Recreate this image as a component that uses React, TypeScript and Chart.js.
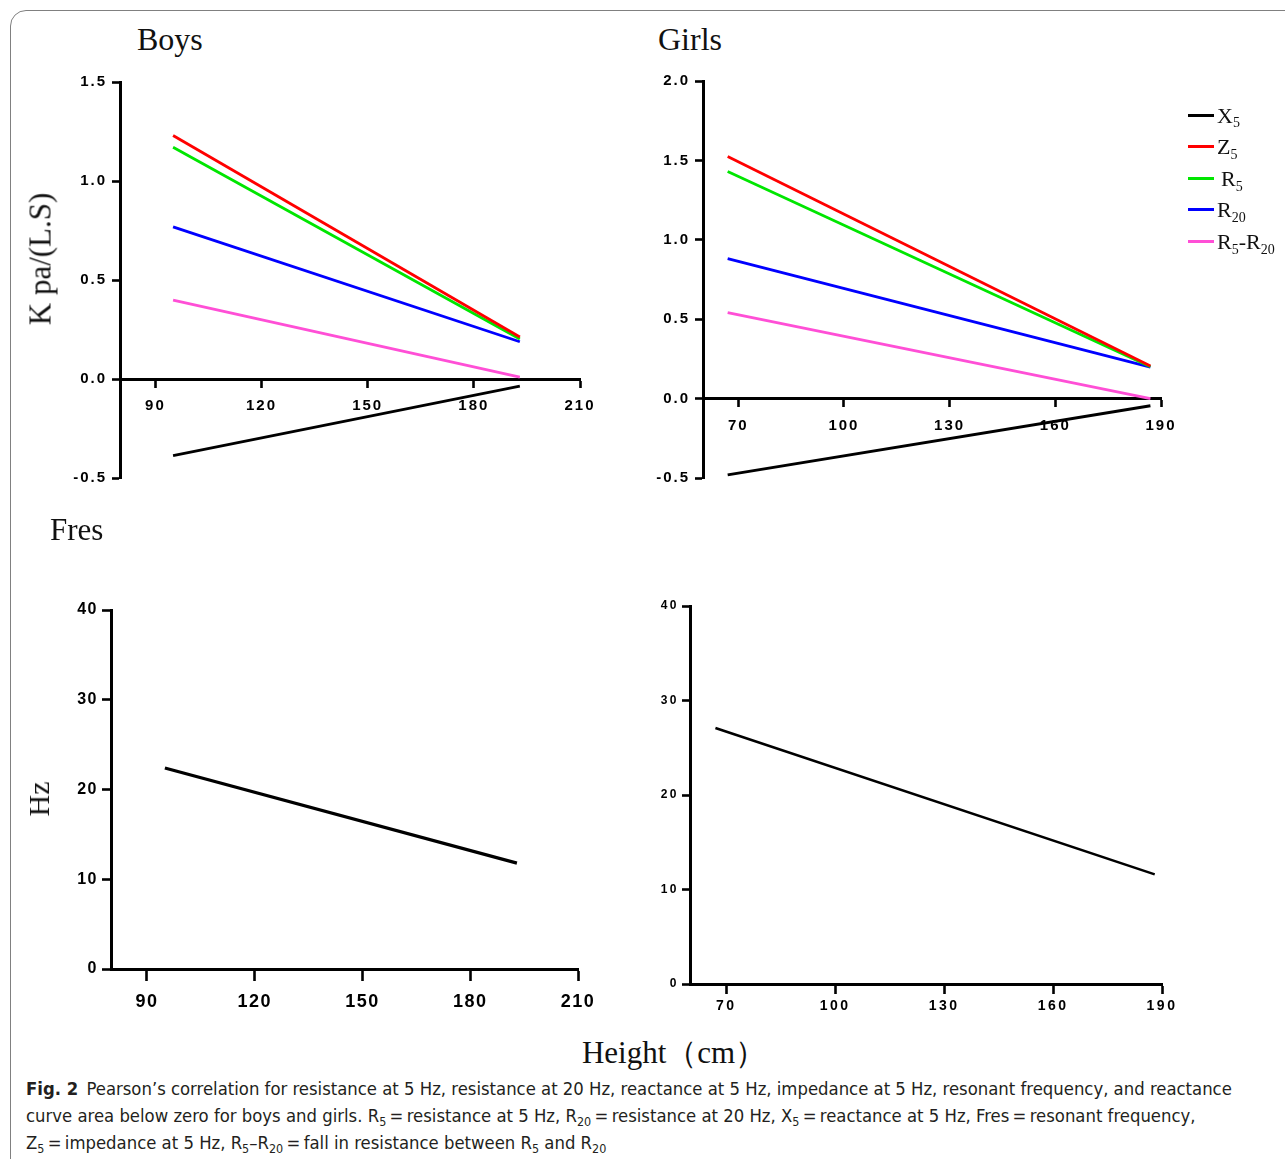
import React, { useEffect, useRef } from "react";
import { Chart, registerables } from "chart.js";

Chart.register(...registerables);

// ---------------- data ----------------
const seriesNames = ["X5", "Z5", "R5", "R20", "R5-R20"];
const seriesColors = ["#000000", "#ff0000", "#00e600", "#0000ff", "#ff4fd6"];

const boysHeight = [95, 193];
const boysX5 = [-0.387, -0.036];
const boysZ5 = [1.23, 0.212];
const boysR5 = [1.17, 0.202];
const boysR20 = [0.768, 0.188];
const boysR5R20 = [0.398, 0.01];

const girlsHeight = [67, 187];
const girlsX5 = [-0.48, -0.045];
const girlsZ5 = [1.524, 0.205];
const girlsR5 = [1.43, 0.2];
const girlsR20 = [0.882, 0.198];
const girlsR5R20 = [0.542, 0.0];

const boysFresHeight = [95, 193];
const boysFres = [22.4, 11.8];
const girlsFresHeight = [67, 188];
const girlsFres = [27.1, 11.6];

const boysXTicks = [90, 120, 150, 180, 210];
const girlsXTicks = [70, 100, 130, 160, 190];
const boysYTicks = [-0.5, 0, 0.5, 1.0, 1.5];
const girlsYTicks = [-0.5, 0, 0.5, 1.0, 1.5, 2.0];
const fresYTicks = [0, 10, 20, 30, 40];

const panelTitles = ["Boys", "Girls", "Fres"];
const yTitleImpedance = "K pa/(L.S)";
const yTitleFres = "Hz";
const xTitle = "Height（cm）";

// ---------------- styling ----------------
const FONT_SANS = "'Liberation Sans', Arial, Helvetica, sans-serif";
const FONT_SERIF = "'Liberation Serif', 'Times New Roman', Times, serif";
const FONT_CAPTION = "'Liberation Sans Narrow', 'DejaVu Sans Condensed', 'Liberation Sans', sans-serif";

const spacingPlugin = {
  id: "spacing",
  beforeDraw(chart: any, _args: any, opts: any) {
    chart.ctx.letterSpacing = (opts && opts.px ? opts.px : 0) + "px";
  },
  afterDraw(chart: any) {
    chart.ctx.letterSpacing = "0px";
  },
};

type Series = { label: string; xs: number[]; ys: number[]; color: string };
type PanelSpec = {
  series: Series[];
  xMin: number; xMax: number; yMin: number; yMax: number;
  xTicks: number[]; yTicks: number[]; yDecimals: number;
  axisX: number; topY: number; plotW: number; plotH: number;
  xFont: number; yFont: number; spacing: number;
  xTickLen: number; yTickLen: number; xPad: number; yPad: number;
  lineWidth: number;
};

const YW = 70, PT = 20, PR = 32, PB = 50;

function buildConfig(p: PanelSpec): any {
  const tickGrid = (len: number) => ({
    display: true,
    drawOnChartArea: false,
    drawTicks: true,
    tickLength: len,
    tickWidth: 2.6,
    tickColor: "#000",
    color: "#000",
  });
  return {
    type: "line",
    data: {
      datasets: p.series.map((s) => ({
        label: s.label,
        data: s.xs.map((x, i) => ({ x, y: s.ys[i] })),
        borderColor: s.color,
        backgroundColor: s.color,
        borderWidth: p.lineWidth,
        pointRadius: 0,
        pointHoverRadius: 0,
        tension: 0,
        fill: false,
      })),
    },
    options: {
      responsive: false,
      animation: false,
      events: [],
      layout: { padding: { left: 0, top: PT, right: PR, bottom: PB } },
      plugins: {
        legend: { display: false },
        tooltip: { enabled: false },
        spacing: { px: p.spacing },
      },
      scales: {
        x: {
          type: "linear",
          position: { y: 0 },
          min: p.xMin,
          max: p.xMax,
          afterBuildTicks: (s: any) => {
            s.ticks = p.xTicks.map((v) => ({ value: v }));
          },
          afterFit: (s: any) => {
            s.height = 0;
            s.paddingLeft = 0;
            s.paddingRight = 0;
          },
          grid: tickGrid(p.xTickLen),
          border: { display: true, color: "#000", width: 3 },
          ticks: {
            autoSkip: false,
            maxRotation: 0,
            minRotation: 0,
            padding: p.xPad,
            color: "#000",
            font: { family: FONT_SANS, size: p.xFont, weight: "bold" },
            callback: (v: any) => String(v),
          },
        },
        y: {
          type: "linear",
          position: "left",
          min: p.yMin,
          max: p.yMax,
          afterBuildTicks: (s: any) => {
            s.ticks = p.yTicks.map((v) => ({ value: v }));
          },
          afterFit: (s: any) => {
            s.width = YW;
            s.paddingTop = 0;
            s.paddingBottom = 0;
          },
          grid: tickGrid(p.yTickLen),
          border: { display: true, color: "#000", width: 3 },
          ticks: {
            autoSkip: false,
            padding: p.yPad,
            color: "#000",
            font: { family: FONT_SANS, size: p.yFont, weight: "bold" },
            callback: (v: any) => Number(v).toFixed(p.yDecimals),
          },
        },
      },
    },
    plugins: [spacingPlugin],
  };
}

function ChartPanel({ spec }: { spec: PanelSpec }) {
  const ref = useRef<HTMLCanvasElement>(null);
  const w = YW + spec.plotW + PR;
  const h = PT + spec.plotH + PB;
  useEffect(() => {
    const chart = new Chart(ref.current as HTMLCanvasElement, buildConfig(spec));
    return () => chart.destroy();
  }, []);
  return (
    <canvas
      ref={ref}
      width={w}
      height={h}
      style={{ position: "absolute", left: spec.axisX - YW, top: spec.topY - PT, width: w, height: h }}
    />
  );
}

const mk = (xs: number[], ys: number[], i: number): Series => ({
  label: seriesNames[i], xs, ys, color: seriesColors[i],
});

const boysPanel: PanelSpec = {
  series: [
    mk(boysHeight, boysX5, 0),
    mk(boysHeight, boysZ5, 1),
    mk(boysHeight, boysR5, 2),
    mk(boysHeight, boysR20, 3),
    mk(boysHeight, boysR5R20, 4),
  ],
  xMin: 80, xMax: 210, yMin: -0.5, yMax: 1.5,
  xTicks: boysXTicks, yTicks: boysYTicks, yDecimals: 1,
  axisX: 120, topY: 82, plotW: 460, plotH: 396,
  xFont: 15, yFont: 15, spacing: 2,
  xTickLen: 7, yTickLen: 8, xPad: 11, yPad: 5,
  lineWidth: 2.8,
};

const girlsPanel: PanelSpec = {
  series: [
    mk(girlsHeight, girlsX5, 0),
    mk(girlsHeight, girlsZ5, 1),
    mk(girlsHeight, girlsR5, 2),
    mk(girlsHeight, girlsR20, 3),
    mk(girlsHeight, girlsR5R20, 4),
  ],
  xMin: 60, xMax: 190, yMin: -0.5, yMax: 2.0,
  xTicks: girlsXTicks, yTicks: girlsYTicks, yDecimals: 1,
  axisX: 703, topY: 81, plotW: 458, plotH: 397,
  xFont: 15, yFont: 15, spacing: 2,
  xTickLen: 7, yTickLen: 8, xPad: 11, yPad: 5,
  lineWidth: 2.8,
};

const boysFresPanel: PanelSpec = {
  series: [mk(boysFresHeight, boysFres, 0)],
  xMin: 80, xMax: 210, yMin: 0, yMax: 40,
  xTicks: boysXTicks, yTicks: fresYTicks, yDecimals: 0,
  axisX: 111, topY: 610, plotW: 467, plotH: 359,
  xFont: 18, yFont: 16, spacing: 1.5,
  xTickLen: 10, yTickLen: 9, xPad: 12, yPad: 4,
  lineWidth: 3.2,
};

const girlsFresPanel: PanelSpec = {
  series: [mk(girlsFresHeight, girlsFres, 0)],
  xMin: 60, xMax: 190, yMin: 0, yMax: 40,
  xTicks: girlsXTicks, yTicks: fresYTicks, yDecimals: 0,
  axisX: 690, topY: 606, plotW: 472, plotH: 378,
  xFont: 14, yFont: 12, spacing: 2.5,
  xTickLen: 8, yTickLen: 8, xPad: 6, yPad: 3,
  lineWidth: 2.6,
};

// label with digits as subscripts, e.g. "R5-R20"
function SubLabel({ text, subSize }: { text: string; subSize: number }) {
  const parts = text.split(/(\d+)/).filter((s) => s.length > 0);
  return (
    <>
      {parts.map((p, i) =>
        /^\d+$/.test(p) ? (
          <span key={i} style={{ fontSize: subSize, position: "relative", top: subSize * 0.35, lineHeight: 0 }}>
            {p}
          </span>
        ) : (
          <span key={i}>{p}</span>
        )
      )}
    </>
  );
}

const sub = (t: string) => (
  <span style={{ fontSize: "0.68em", position: "relative", top: "0.3em", lineHeight: 0 }}>{t}</span>
);

function Caption() {
  const ref = useRef<HTMLDivElement>(null);
  useEffect(() => {
    const el = ref.current;
    if (!el) return;
    const fit = () => {
      const first = el.querySelector("[data-line='1']") as HTMLElement | null;
      if (!first) return;
      const base = 20;
      el.style.fontSize = base + "px";
      const w = first.getBoundingClientRect().width;
      if (w > 0) el.style.fontSize = (base * 1206) / w + "px";
    };
    fit();
    if ((document as any).fonts && (document as any).fonts.ready) {
      (document as any).fonts.ready.then(fit);
    }
  }, []);
  const line: React.CSSProperties = { display: "inline-block", whiteSpace: "nowrap", height: 27, lineHeight: "27px" };
  return (
    <div
      ref={ref}
      style={{ position: "absolute", left: 26, top: 1075, fontFamily: FONT_CAPTION, fontSize: 20, color: "#231f20", lineHeight: "27px" }}
    >
      <div><span data-line="1" style={line}><b>Fig. 2</b>{"\u2002"}Pearson’s correlation for resistance at 5 Hz, resistance at 20 Hz, reactance at 5 Hz, impedance at 5 Hz, resonant frequency, and reactance</span></div>
      <div><span style={line}>curve area below zero for boys and girls. R{sub("5")}{"\u2009"}={"\u2009"}resistance at 5 Hz, R{sub("20")}{"\u2009"}={"\u2009"}resistance at 20 Hz, X{sub("5")}{"\u2009"}={"\u2009"}reactance at 5 Hz, Fres{"\u2009"}={"\u2009"}resonant frequency,</span></div>
      <div><span style={line}>Z{sub("5")}{"\u2009"}={"\u2009"}impedance at 5 Hz, R{sub("5")}–R{sub("20")}{"\u2009"}={"\u2009"}fall in resistance between R{sub("5")} and R{sub("20")}</span></div>
    </div>
  );
}

export default function App() {
  const legendTop = 115;
  const legendStep = 31.6;
  const serifTitle = (size: number): React.CSSProperties => ({
    position: "absolute",
    fontFamily: FONT_SERIF,
    fontSize: size,
    lineHeight: 1,
    whiteSpace: "nowrap",
    color: "#111",
  });
  return (
    <div style={{ position: "absolute", left: 0, top: 0, width: 1285, height: 1159, overflow: "hidden", background: "#fff" }}>
      <div style={{ position: "absolute", left: 10, top: 10, width: 1400, height: 1400, border: "1.5px solid #808080", borderRadius: 16, boxSizing: "border-box" }} />

      <ChartPanel spec={boysPanel} />
      <ChartPanel spec={girlsPanel} />
      <ChartPanel spec={boysFresPanel} />
      <ChartPanel spec={girlsFresPanel} />

      <div style={{ ...serifTitle(32), left: 137, top: 50 - 0.8375 * 32 }}>{panelTitles[0]}</div>
      <div style={{ ...serifTitle(32), left: 658, top: 49.5 - 0.8375 * 32 }}>{panelTitles[1]}</div>
      <div style={{ ...serifTitle(31), left: 50, top: 540.3 - 0.8375 * 31 }}>{panelTitles[2]}</div>

      <div style={{ ...serifTitle(31), left: 40, top: 258.5, transform: "translate(-50%,-50%) rotate(-90deg)" }}>{yTitleImpedance}</div>
      <div style={{ ...serifTitle(30), left: 38.5, top: 799, transform: "translate(-50%,-50%) rotate(-90deg)" }}>{yTitleFres}</div>

      <div style={{ ...serifTitle(31), left: 674, top: 1063 - 0.8375 * 31, transform: "translateX(-50%)" }}>{xTitle}</div>

      {seriesNames.map((name, i) => {
        const y = legendTop + i * legendStep;
        return (
          <React.Fragment key={name}>
            <div style={{ position: "absolute", left: 1188, top: y - 1.5, width: 26, height: 3, background: seriesColors[i] }} />
            <div style={{ ...serifTitle(22), left: name === "R5" ? 1221 : 1217, top: y + 8 - 0.8375 * 22 }}>
              <SubLabel text={name} subSize={14} />
            </div>
          </React.Fragment>
        );
      })}

      <Caption />
    </div>
  );
}
